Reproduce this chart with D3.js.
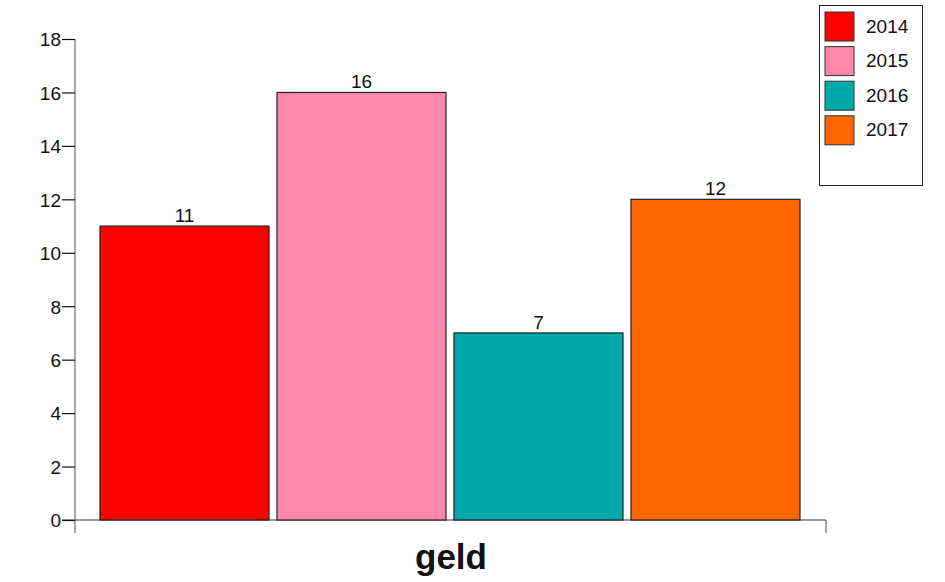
<!DOCTYPE html>
<html>
<head>
<meta charset="utf-8">
<script src="https://cdn.jsdelivr.net/npm/d3@7"></script>
<style>
  html, body { margin: 0; padding: 0; background: #fff; }
  text { font-family: "Liberation Sans", Arial, sans-serif; }
</style>
</head>
<body>
<svg id="chart" width="945" height="582"></svg>
<script>
const years = ["2014", "2015", "2016", "2017"];
const values = [11, 16, 7, 12];
const colors = ["#ff0000", "#ff88aa", "#00aaaa", "#ff6600"];
const yTicks = [0, 2, 4, 6, 8, 10, 12, 14, 16, 18];
const categoryLabel = "geld";

const svg = d3.select("#chart");
const x0 = 75, x1 = 826, yBottom = 520, yTop = 39;

const y = d3.scaleLinear().domain([0, 18]).range([yBottom, yTop]);
const x = d3.scaleBand().domain(years).range([100, 800]).paddingInner(0.045).paddingOuter(0);

// axes lines
svg.append("line").attr("x1", x0).attr("x2", x0).attr("y1", yTop).attr("y2", 533)
  .attr("stroke", "#777").attr("stroke-width", 1.3);
svg.append("line").attr("x1", x0 - 13).attr("x2", x1).attr("y1", yBottom).attr("y2", yBottom)
  .attr("stroke", "#777").attr("stroke-width", 1.3);
svg.append("line").attr("x1", x1).attr("x2", x1).attr("y1", yBottom).attr("y2", 533)
  .attr("stroke", "#777").attr("stroke-width", 1.3);

// y ticks
const yAxis = d3.axisLeft(y).tickValues(yTicks).tickSize(13).tickPadding(1).tickFormat(d3.format("d"));
const gy = svg.append("g").attr("transform", `translate(${x0},0)`).call(yAxis);
gy.select(".domain").remove();
gy.selectAll(".tick line").attr("stroke", "#111").attr("stroke-width", 1.2);
gy.selectAll(".tick text").attr("font-size", 19).attr("fill", "#111")
  .attr("font-family", "Liberation Sans, Arial, sans-serif").attr("dy", "0.36em");

// bars
svg.selectAll("rect.bar").data(values).enter().append("rect")
  .attr("class", "bar")
  .attr("x", (d, i) => x(years[i]))
  .attr("y", d => y(d))
  .attr("width", x.bandwidth())
  .attr("height", d => y(0) - y(d))
  .attr("fill", (d, i) => colors[i])
  .attr("stroke", "#222").attr("stroke-width", 1.2);

// value labels
svg.selectAll("text.val").data(values).enter().append("text")
  .attr("class", "val")
  .attr("x", (d, i) => x(years[i]) + x.bandwidth() / 2)
  .attr("y", d => y(d) - 4)
  .attr("text-anchor", "middle")
  .attr("font-size", 19).attr("fill", "#111")
  .text(d => d);

// category label
svg.append("text").attr("x", 451).attr("y", 569).attr("text-anchor", "middle")
  .attr("font-size", 35).attr("font-weight", "bold").attr("fill", "#111")
  .text(categoryLabel);

// legend
const lg = svg.append("g");
lg.append("rect").attr("x", 819.5).attr("y", 5.5).attr("width", 103).attr("height", 180)
  .attr("fill", "#fff").attr("stroke", "#222").attr("stroke-width", 1);
years.forEach((yr, i) => {
  const top = 12 + i * 34.6;
  lg.append("rect").attr("x", 825).attr("y", top).attr("width", 29).attr("height", 29)
    .attr("fill", colors[i]).attr("stroke", "#333").attr("stroke-width", 1);
  lg.append("text").attr("x", 866).attr("y", top + 20.5)
    .attr("font-size", 19).attr("fill", "#111").text(yr);
});
</script>
</body>
</html>
